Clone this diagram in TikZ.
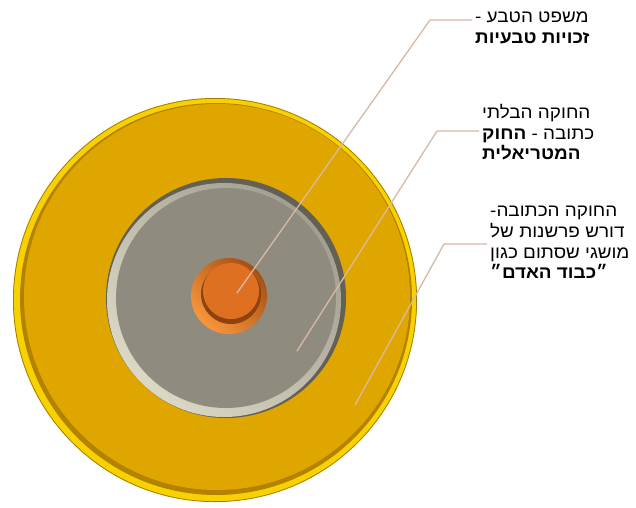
\documentclass[tikz,border=0pt]{standalone}
\usepackage{fontspec}
\setmainfont{Liberation Sans}[Script=Hebrew, FakeStretch=1.08]
\TeXXeTstate=1
\usetikzlibrary{positioning}

\definecolor{mustard}{HTML}{E0A600}
\definecolor{rimyellow}{HTML}{F8D200}
\definecolor{rimshadow}{HTML}{B38200}
\definecolor{stone}{HTML}{8F8B7F}
\definecolor{stonelight}{HTML}{DCD8C6}
\definecolor{stonedark}{HTML}{5C584E}
\definecolor{copper}{HTML}{DE7022}
\definecolor{copperlight}{HTML}{F8963C}
\definecolor{copperdark}{HTML}{8E420E}
\definecolor{leader}{HTML}{D8B9A4}

\newcommand{\rl}[1]{\beginR #1\endR}

\begin{document}
\begin{tikzpicture}[
        x=1pt, y=-1pt,
        every node/.style={font=\fontsize{17.5}{20.7}\selectfont},
        lawtext/.style={inner sep=0pt, align=left, anchor=north west},
        leaderline/.style={draw=leader, line width=1.3pt, shorten >=3pt}
    ]
        \useasboundingbox[fill=white] (0,0) rectangle (636,507);

        % Dischi
        \coordinate (outer) at (215,300);
        \coordinate (ring) at (224,300);
        \coordinate (core) at (229,296);

        \fill[rimyellow] (outer) circle (202);
        \draw[mustard!75!black, line width=0.8pt] (outer) circle (201.6);
        \fill[rimshadow] (216,299) circle (196);
        \fill[mustard] (217,297) circle (193);

        \fill[stonedark!85!stone] (226,298) circle (120);
        \shade[top color=stone!75!stonelight, bottom color=stonelight, shading angle=-45] (ring) circle (117);
        \fill[stone] (226,298) circle (110);

        \shade[top color=copperdark!70!copper, bottom color=copperlight, shading angle=-45] (core) circle (38);
        \fill[copperdark] (231,294) circle (30);
        \fill[copper] (231,291) circle (28);

        % Testi
        \node[lawtext] (natlaw) at (475,12) {\rl{משפט הטבע -}\\\textbf{\rl{זכויות טבעיות}}};
        \node[lawtext] (unwritten) at (482,104) {\rl{החוקה הבלתי}\\\rl{כתובה - \textbf{החוק}}\\\textbf{\rl{המטריאלית}}};
        \node[lawtext] (written) at (490,206) {\rl{החוקה הכתובה-}\\\rl{דורש פרשנות של}\\\rl{מושגי שסתום כגון}\\\textbf{\rl{״כבוד האדם״}}};

        % Linee
        \coordinate (pin1) at (237,293);
        \coordinate (bend1) at (430,20);
        \coordinate (pin2) at (297,351);
        \coordinate (bend2) at (437,131);
        \coordinate (pin3) at (355,405);
        \coordinate (bend3) at (444,244);

        \draw[leaderline] (pin1) -- (bend1) -- (bend1 -| natlaw.west);
        \draw[leaderline] (pin2) -- (bend2) -- (bend2 -| unwritten.west);
        \draw[leaderline] (pin3) -- (bend3) -- (bend3 -| written.west);
    \end{tikzpicture}
\end{document}
